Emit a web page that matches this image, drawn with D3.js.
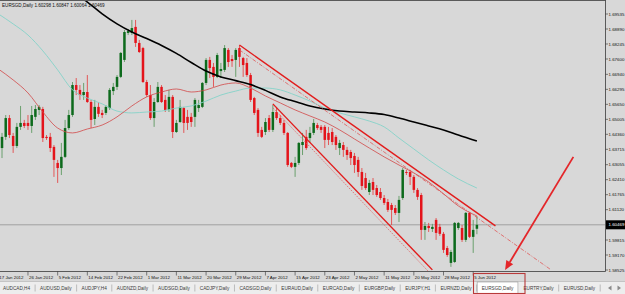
<!DOCTYPE html>
<html><head><meta charset="utf-8">
<script src="https://cdn.jsdelivr.net/npm/d3@7"></script>
<style>
html,body{margin:0;padding:0;background:#d8d8d8;overflow:hidden}
svg{display:block}
text{font-family:"Liberation Sans",Arial,sans-serif}
</style></head><body>
<svg id="c" width="625" height="294"></svg>
<script>
// ---------------- DATA ----------------
const symbol = "EURSGD,Daily";
const lastBar = [1.60298, 1.60847, 1.60064, 1.60469]; // O H L C of current bar
const firstBar = 1;
// [open, high, low, close] per daily bar (bar index = firstBar + row)
const candles = [
[1.6377,1.6442,1.6334,1.6425],[1.6425,1.6519,1.6412,1.6506],[1.6506,1.6519,1.6420,1.6433],[1.6429,1.6442,1.6356,1.6386],
[1.6386,1.6485,1.6377,1.6468],[1.6468,1.6558,1.6455,1.6485],[1.6485,1.6498,1.6463,1.6472],[1.6485,1.6519,1.6455,1.6472],
[1.6472,1.6558,1.6442,1.6519],[1.6511,1.6562,1.6498,1.6545],[1.6541,1.6562,1.6519,1.6554],[1.6545,1.6554,1.6403,1.6420],
[1.6425,1.6433,1.6412,1.6420],[1.6425,1.6442,1.6360,1.6377],[1.6382,1.6390,1.6253,1.6326],[1.6313,1.6326,1.6227,1.6291],
[1.6291,1.6399,1.6261,1.6339],[1.6339,1.6498,1.6334,1.6463],[1.6463,1.6541,1.6455,1.6519],[1.6519,1.6661,1.6511,1.6648],
[1.6648,1.6678,1.6605,1.6627],[1.6627,1.6648,1.6584,1.6605],[1.6605,1.6657,1.6584,1.6618],[1.6618,1.6691,1.6571,1.6575],
[1.6575,1.6584,1.6463,1.6498],[1.6502,1.6584,1.6476,1.6554],[1.6554,1.6575,1.6511,1.6524],[1.6528,1.6541,1.6506,1.6519],
[1.6528,1.6562,1.6519,1.6554],[1.6549,1.6635,1.6541,1.6627],[1.6622,1.6657,1.6605,1.6640],[1.6640,1.6691,1.6627,1.6683],
[1.6683,1.6790,1.6678,1.6786],[1.6756,1.6885,1.6747,1.6876],[1.6872,1.6889,1.6863,1.6880],[1.6872,1.6928,1.6863,1.6893],
[1.6898,1.6928,1.6812,1.6829],[1.6829,1.6842,1.6786,1.6790],[1.6807,1.6812,1.6657,1.6661],[1.6661,1.6670,1.6597,1.6605],
[1.6605,1.6648,1.6498,1.6506],[1.6506,1.6592,1.6468,1.6575],[1.6575,1.6661,1.6571,1.6640],[1.6640,1.6648,1.6571,1.6575],
[1.6584,1.6605,1.6532,1.6541],[1.6541,1.6627,1.6532,1.6597],[1.6597,1.6605,1.6420,1.6446],[1.6446,1.6498,1.6442,1.6485],
[1.6489,1.6584,1.6485,1.6554],[1.6549,1.6554,1.6442,1.6485],[1.6511,1.6541,1.6455,1.6485],[1.6511,1.6528,1.6468,1.6489],
[1.6511,1.6592,1.6468,1.6584],[1.6549,1.6584,1.6532,1.6562],[1.6554,1.6661,1.6549,1.6657],[1.6657,1.6764,1.6648,1.6756],
[1.6756,1.6769,1.6678,1.6721],[1.6726,1.6743,1.6640,1.6683],[1.6683,1.6786,1.6678,1.6777],[1.6708,1.6743,1.6678,1.6717],
[1.6713,1.6820,1.6704,1.6807],[1.6799,1.6807,1.6726,1.6747],[1.6760,1.6777,1.6726,1.6751],[1.6756,1.6807,1.6683,1.6799],
[1.6807,1.6820,1.6726,1.6769],[1.6764,1.6769,1.6683,1.6734],[1.6743,1.6764,1.6683,1.6691],[1.6691,1.6700,1.6575,1.6584],
[1.6592,1.6597,1.6519,1.6528],[1.6541,1.6549,1.6425,1.6442],[1.6455,1.6468,1.6420,1.6425],[1.6446,1.6506,1.6433,1.6489],
[1.6506,1.6519,1.6446,1.6455],[1.6455,1.6562,1.6446,1.6532],[1.6532,1.6554,1.6498,1.6506],[1.6506,1.6519,1.6476,1.6485],
[1.6485,1.6498,1.6433,1.6442],[1.6442,1.6446,1.6296,1.6304],[1.6313,1.6317,1.6291,1.6296],[1.6296,1.6339,1.6253,1.6313],
[1.6313,1.6403,1.6304,1.6399],[1.6390,1.6442,1.6347,1.6403],[1.6425,1.6455,1.6369,1.6377],[1.6420,1.6468,1.6399,1.6442],
[1.6442,1.6502,1.6433,1.6485],[1.6476,1.6485,1.6455,1.6463],[1.6468,1.6476,1.6442,1.6455],[1.6468,1.6476,1.6377,1.6412],
[1.6442,1.6468,1.6390,1.6412],[1.6446,1.6463,1.6390,1.6403],[1.6425,1.6433,1.6369,1.6390],[1.6377,1.6412,1.6347,1.6399],
[1.6390,1.6403,1.6339,1.6369],[1.6369,1.6382,1.6326,1.6347],[1.6360,1.6369,1.6304,1.6334],[1.6343,1.6356,1.6270,1.6304],
[1.6326,1.6339,1.6253,1.6274],[1.6274,1.6291,1.6197,1.6214],[1.6248,1.6270,1.6197,1.6205],[1.6188,1.6240,1.6175,1.6227],
[1.6231,1.6248,1.6175,1.6197],[1.6205,1.6218,1.6167,1.6175],[1.6188,1.6205,1.6154,1.6162],[1.6162,1.6175,1.6132,1.6141],
[1.6145,1.6158,1.6102,1.6111],[1.6132,1.6141,1.6046,1.6111],[1.6119,1.6132,1.6089,1.6098],[1.6098,1.6171,1.6059,1.6154],
[1.6162,1.6291,1.6154,1.6283],[1.6274,1.6283,1.6261,1.6270],[1.6274,1.6283,1.6218,1.6253],[1.6253,1.6261,1.6184,1.6197],
[1.6197,1.6205,1.6154,1.6167],[1.6175,1.6184,1.5982,1.6025],[1.6025,1.6059,1.5982,1.6042],[1.6042,1.6055,1.6016,1.6033],
[1.6029,1.6051,1.6016,1.6038],[1.6068,1.6076,1.5982,1.6012],[1.6038,1.6051,1.5999,1.6008],[1.6008,1.6016,1.5926,1.5939],
[1.5947,1.5956,1.5909,1.5917],[1.5883,1.5939,1.5866,1.5930],[1.5887,1.6059,1.5883,1.6055],[1.6033,1.6059,1.6025,1.6055],
[1.6033,1.6046,1.5973,1.5982],[1.5982,1.6102,1.5973,1.6098],[1.6098,1.6102,1.5990,1.5995],[1.5995,1.6068,1.5926,1.6025],
[1.60298,1.60847,1.60064,1.60469]
];
// moving averages, sampled at bar indices
const blackIdx = [20,24,28,32,36,40,44,48,52,56,60,64,68,72,76,80,84,88,92,96,100,104,108,112,116,120,124,129];
const blackMA  = [1.7048,1.7005,1.6954,1.6911,1.6876,1.6848,1.6818,1.6784,1.6745,1.6708,1.6683,1.6667,1.6650,1.6625,1.6597,1.6577,1.6558,1.6545,1.6536,1.6532,1.6528,1.6521,1.6506,1.6489,1.6472,1.6455,1.6433,1.6407];
const maIdx    = [0,4,8,12,16,20,24,28,32,36,40,44,48,52,56,60,64,68,72,76,80,84,88,92,96,100,104,108,112,116,120,124,129];
const tealMA   = [1.6954,1.6911,1.6863,1.6795,1.6713,1.6627,1.6592,1.6567,1.6536,1.6528,1.6532,1.6536,1.6549,1.6558,1.6579,1.6605,1.6622,1.6635,1.6635,1.6627,1.6605,1.6579,1.6549,1.6528,1.6511,1.6493,1.6468,1.6420,1.6373,1.6326,1.6283,1.6244,1.6205];
const redMA    = [1.6717,1.6670,1.6614,1.6532,1.6463,1.6442,1.6459,1.6476,1.6511,1.6558,1.6597,1.6618,1.6631,1.6618,1.6627,1.6648,1.6657,1.6635,1.6601,1.6571,1.6541,1.6515,1.6489,1.6455,1.6416,1.6377,1.6339,1.6304,1.6270,1.6231,1.6180,1.6128,1.6085];
// drawn channel objects: [bar index, price]
const upperChannel = [[65,1.6820],[134,1.6042]];
const upperDashed  = [[65,1.6799],[149,1.5853]];
const lowerChannel = [[74,1.6567],[117,1.5853]];
const lowerDotted  = [[74,1.6550],[116,1.5845]];
const dateIdxStep = 8;
const dateLabels = ["17 Jan 2012","26 Jan 2012","5 Feb 2012","14 Feb 2012","22 Feb 2012","1 Mar 2012","11 Mar 2012","20 Mar 2012","29 Mar 2012","7 Apr 2012","15 Apr 2012","23 Apr 2012","2 May 2012","11 May 2012","20 May 2012","28 May 2012","5 Jun 2012"];
const priceTicks = ["1.69535","1.68890","1.68245","1.67600","1.66940","1.66295","1.65650","1.65005","1.64360","1.63715","1.63055","1.62410","1.61765","1.61120","1.59815","1.59170","1.58525"];
const tabs = ["AUDCAD,H4","AUDUSD,Daily","AUDJPY,H4","AUDNZD,Daily","AUDSGD,Daily","CADJPY,Daily","CADSGD,Daily","EURAUD,Daily","EURCAD,Daily","EURGBP,Daily","EURJPY,H1","EURNZD,Daily","EURSGD,Daily","EURTRY,Daily","EURUSD,Daily"];
const activeTab = "EURSGD,Daily";

// ---------------- DRAW ----------------
const svg = d3.select("#c");
const P = {l:0, t:1, r:605, b:271};
const x = d3.scaleLinear().domain([0,129]).range([-1.7,476.9]);
const y = d3.scaleLinear().domain([1.58525,1.69535]).range([270,14]);

svg.append("rect").attr("width",625).attr("height",294).attr("fill","#d8d8d8");
svg.append("clipPath").attr("id","pc").append("rect")
  .attr("x",P.l).attr("y",P.t).attr("width",P.r-P.l).attr("height",P.b-P.t);
const g = svg.append("g").attr("clip-path","url(#pc)");

// current price line
const cur = lastBar[3];
g.append("line").attr("x1",P.l).attr("x2",P.r).attr("y1",y(cur)).attr("y2",y(cur))
  .attr("stroke","#8a8a8a").attr("stroke-width",0.7);

// candles
const bars = candles.map((d,i)=>({i:firstBar+i,o:d[0],h:d[1],l:d[2],c:d[3]}));
const cg = g.append("g");
bars.forEach(b=>{
  const up = b.c >= b.o;
  const cx = x(b.i);
  cg.append("line").attr("x1",cx).attr("x2",cx).attr("y1",y(b.h)).attr("y2",y(b.l))
    .attr("stroke", up ? "#5f9a62" : "#e34a4a").attr("stroke-width",0.9);
  const top = y(Math.max(b.o,b.c)), bot = y(Math.min(b.o,b.c));
  cg.append("rect").attr("x",cx-1.25).attr("width",2.5)
    .attr("y",top).attr("height",Math.max(0.9,bot-top))
    .attr("fill", up ? "#0d6a1c" : "#e4141b");
});

// moving averages
const line = d3.line().x(d=>x(d[0])).y(d=>y(d[1])).curve(d3.curveMonotoneX);
g.append("path").attr("d",line(maIdx.map((k,j)=>[k,tealMA[j]])))
  .attr("fill","none").attr("stroke","#84d3c8").attr("stroke-width",0.9);
g.append("path").attr("d",line(maIdx.map((k,j)=>[k,redMA[j]])))
  .attr("fill","none").attr("stroke","#d24848").attr("stroke-width",0.8);
g.append("path").attr("d",line(blackIdx.map((k,j)=>[k,blackMA[j]])))
  .attr("fill","none").attr("stroke","#000").attr("stroke-width",1.6);

// channel objects
const seg = (pts,col,w,dash)=>{
  const l = g.append("line").attr("x1",x(pts[0][0])).attr("y1",y(pts[0][1]))
    .attr("x2",x(pts[1][0])).attr("y2",y(pts[1][1]))
    .attr("stroke",col).attr("stroke-width",w);
  if(dash) l.attr("stroke-dasharray",dash);
};
seg(upperDashed,"#e05858",0.8,"4,1.5,1,1.5");
seg(lowerDotted,"#e26060",0.8,"1.5,1.2");
seg(upperChannel,"#e21c1c",1.4);
seg(lowerChannel,"#e21c1c",1.4);

// frame
svg.append("line").attr("x1",P.r+0.5).attr("x2",P.r+0.5).attr("y1",0).attr("y2",P.b+0.5).attr("stroke","#3a3a3a").attr("stroke-width",0.8);
svg.append("line").attr("x1",0).attr("x2",P.r+0.5).attr("y1",P.b+0.5).attr("y2",P.b+0.5).attr("stroke","#3a3a3a").attr("stroke-width",0.8);
svg.append("line").attr("x1",0).attr("x2",P.r+0.5).attr("y1",0.5).attr("y2",0.5).attr("stroke","#3a3a3a").attr("stroke-width",0.8);

// header
svg.append("text").attr("x",2).attr("y",7).attr("font-size",4.6).attr("fill","#111")
  .text(symbol+"  "+lastBar.map(v=>v.toFixed(5)).join(" "));

// right axis
priceTicks.forEach(t=>{
  const yy = y(+t);
  svg.append("line").attr("x1",P.r+0.5).attr("x2",P.r+3).attr("y1",yy).attr("y2",yy).attr("stroke","#333").attr("stroke-width",0.6);
  svg.append("text").attr("x",P.r+3.5).attr("y",yy).attr("dy","0.35em").attr("font-size",4.4).attr("fill","#111").text(t);
});
svg.append("rect").attr("x",P.r+1).attr("y",y(cur)-4.5).attr("width",20).attr("height",9).attr("fill","#000");
svg.append("text").attr("x",P.r+3.5).attr("y",y(cur)).attr("dy","0.35em").attr("font-size",4.4).attr("fill","#fff").text(cur.toFixed(5));

// date axis
dateLabels.forEach((lab,k)=>{
  const xx = x(k*dateIdxStep);
  svg.append("line").attr("x1",xx).attr("x2",xx).attr("y1",P.b+0.5).attr("y2",P.b+4.5).attr("stroke","#333").attr("stroke-width",0.6);
  svg.append("text").attr("x",xx+1).attr("y",P.b+7.5).attr("font-size",4.4).attr("fill","#111").text(lab);
});

// tab bar
svg.append("rect").attr("x",0).attr("y",281).attr("width",625).attr("height",13).attr("fill","#ededed");
svg.append("line").attr("x1",0).attr("x2",625).attr("y1",281.5).attr("y2",281.5).attr("stroke","#a8a8a8").attr("stroke-width",0.6);
let tx = 3;
const tg = svg.append("g");
tabs.forEach(name=>{
  const t = tg.append("text").attr("x",tx).attr("y",289.5).attr("font-size",4.7).attr("fill","#3a3a3a").text(name);
  const w = t.node().getComputedTextLength();
  if(name===activeTab){
    tg.insert("rect","text").attr("x",tx-4.5).attr("y",282).attr("width",w+9).attr("height",12)
      .attr("fill","#fff").attr("stroke","#9a9a9a").attr("stroke-width",0.6);
  } else {
    tg.append("line").attr("x1",tx+w+5).attr("x2",tx+w+5).attr("y1",284.5).attr("y2",291.5).attr("stroke","#9a9a9a").attr("stroke-width",0.6);
  }
  tx += w + 10;
});
// scroll arrows
svg.append("path").attr("d","M608,288 L611.5,285.5 L611.5,290.5 Z").attr("fill","#8a8a8a");
svg.append("path").attr("d","M621,288 L617.5,285.5 L617.5,290.5 Z").attr("fill","#8a8a8a");

// annotation: highlight box and arrow
svg.append("rect").attr("x",473.5).attr("y",273.5).attr("width",51.5).attr("height",20)
  .attr("fill","none").attr("stroke","#b83a3a").attr("stroke-width",1.1);
const a0 = [x(155), y(1.6339)], a1 = [x(136.6), y(1.5853)];
const ang = Math.atan2(a1[1]-a0[1], a1[0]-a0[0]);
const hl = 9, hw = 4;
const bx = a1[0]-hl*Math.cos(ang), by = a1[1]-hl*Math.sin(ang);
svg.append("line").attr("x1",a0[0]).attr("y1",a0[1]).attr("x2",bx).attr("y2",by)
  .attr("stroke","#e4262a").attr("stroke-width",1.8);
svg.append("path").attr("d",`M${a1[0]},${a1[1]} L${bx+hw*Math.sin(ang)},${by-hw*Math.cos(ang)} L${bx-hw*Math.sin(ang)},${by+hw*Math.cos(ang)} Z`)
  .attr("fill","#e4262a");
</script>
</body></html>
